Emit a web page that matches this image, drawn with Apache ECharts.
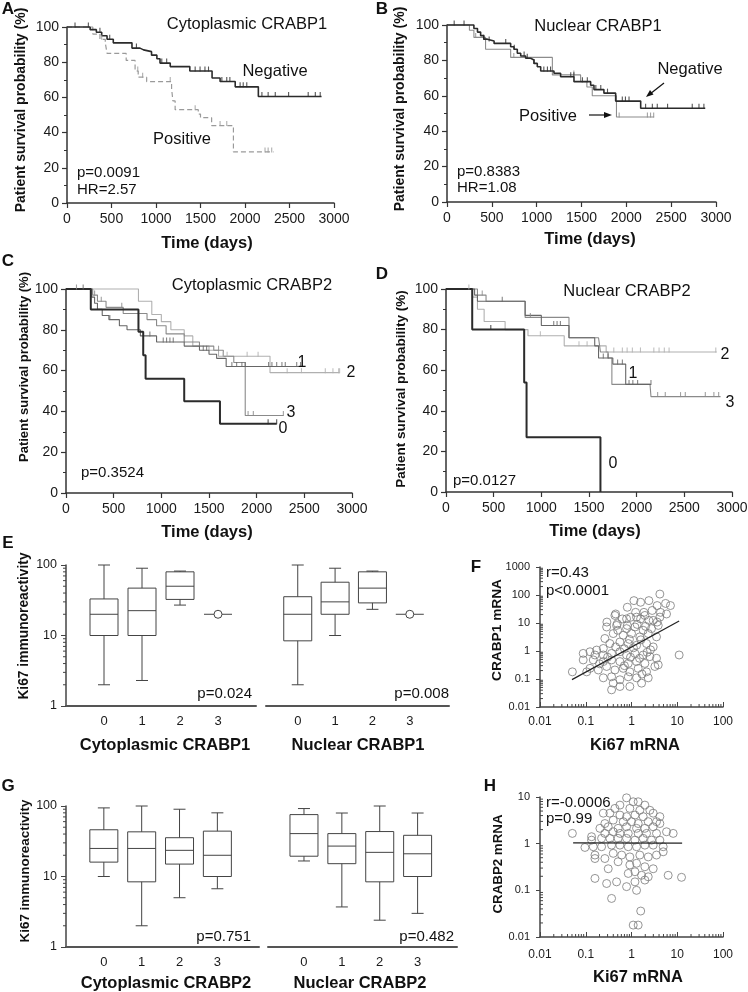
<!DOCTYPE html>
<html><head><meta charset="utf-8">
<script src="https://cdn.jsdelivr.net/npm/echarts@6/dist/echarts.min.js"></script>
<style>html,body{margin:0;padding:0;background:#fff}#c{width:748px;height:992px}</style>
</head><body><div id="c"></div>
<script>
const FONT = '"Liberation Sans", Arial, Helvetica, sans-serif';

// ---------- Panel A : Cytoplasmic CRABP1 (Kaplan-Meier, [time, survival %]) ----------
const aNegative = [[0,100],[260,98.5],[330,97],[390,95],[450,93],[520,91],[730,88],[820,87],[860,86],[950,84],[1010,82],[1045,79.5],[1160,77.5],[1380,75],[1630,71],[1720,69],[1890,66],[2150,60.5],[2860,60.5]];
const aNegativeCensor = [90,240,370,480,780,1065,1120,1440,1495,1550,1590,1740,1795,1830,1945,1980,2020,2190,2260,2340,2490,2710,2790,2845];
const aPositive = [[0,100],[290,96],[370,93],[430,91],[450,85],[665,81],[765,75],[800,71.5],[895,69],[1175,65],[1190,58],[1215,53],[1475,50.5],[1500,48.5],[1625,44],[1870,29],[2320,29]];
const aPositiveCensor = [390,795,850,1160,1440,1720,1795,2225,2260,2300];

// ---------- Panel B : Nuclear CRABP1 ----------
const bNegative = [[0,100],[300,98],[340,96],[375,94],[410,92],[450,91],[525,89.6],[710,87.7],[747,86.3],[784,84],[822,82.5],[877,81.2],[933,80.2],[970,78.3],[1007,76.4],[1045,74],[1193,72.7],[1267,70.8],[1416,68],[1602,66],[1639,63.5],[1750,61.5],[1881,57],[2160,53],[2880,53]];
const bNegativeCensor = [80,190,410,470,655,750,860,895,970,1080,1120,1155,1380,1415,1510,1565,1660,1715,1790,1955,1990,2030,2215,2290,2345,2460,2735,2810,2865];
const bPositive = [[0,100],[250,97],[300,93],[430,86.3],[710,81.7],[1175,71.8],[1490,68],[1560,65],[1620,60],[1890,48],[2310,48]];
const bPositiveCensor = [320,745,1415,1920,2235,2270,2305];

// ---------- Panel C : Cytoplasmic CRABP2 (groups 0-3) ----------
const c0 = [[0,100],[260,90],[760,79],[810,67.5],[835,56],[1240,45],[1615,34],[2210,34]];
const c0Censor = [2120,2210];
const c1 = [[0,100],[270,96],[300,93],[330,90],[380,87],[450,85],[560,82],[640,80],[780,77],[950,74],[1240,72],[1400,70],[1500,68],[1580,66],[1680,62],[2460,62]];
const c1Censor = [180,460,880,1020,1055,1090,1125,1440,1475,1740,1790,1845,1880,2125,2160,2210,2265,2300,2420,2460];
const c2 = [[0,100],[760,94],[900,87.5],[1000,84],[1100,80],[1240,77],[1330,72],[1500,70],[1600,67],[2140,59],[2870,59]];
const c2Censor = [1650,1690,1900,2015,2320,2470,2720,2800,2860,2870];
const c3 = [[0,100],[280,97],[330,94],[420,91],[600,88],[850,85],[950,82],[1050,78],[1240,74],[1400,72],[1550,70],[1650,67],[1760,64],[1880,38],[2280,38]];
const c3Censor = [110,300,370,585,1600,1910,1965,2280];

// ---------- Panel D : Nuclear CRABP2 (groups 0-3) ----------
const d0 = [[0,100],[275,80],[820,54],[845,27],[1620,0]];
const d0Censor = [470];
const d1 = [[0,100],[300,97],[330,94],[830,87],[1000,82],[1290,76],[1560,72],[1600,66],[1750,63],[1885,53],[2150,53]];
const d1Censor = [590,1130,1165,1200,1650,1700,1800,1850,1920,1960,2010,2150];
const d2 = [[0,100],[280,96],[330,90],[400,84],[620,80],[860,77],[1240,72],[1680,69],[2840,69]];
const d2Censor = [240,990,1395,1480,1760,1850,1900,1955,2040,2180,2235,2290,2340,2830];
const d3 = [[0,100],[330,97],[420,94],[830,86],[1250,86],[1290,76],[1600,76],[1620,69],[1700,66],[1740,53],[2140,53],[2150,47],[2880,47]];
const d3Censor = [380,885,2220,2300,2460,2510,2720,2810,2860];

// ---------- Panels E / G : Ki67 immunoreactivity box plots [min, Q1, median, Q3, max] ----------
const boxCategories = [0, 1, 2, 3];
const eCytoCRABP1 = [[2,10,20,33,100],[2.3,10,22.5,47,90],[27,32.5,50,80,82],[20,20,20,20,20]];
const eNucCRABP1  = [[2,8.4,20,35.5,100],[10,20,30,57,90],[23.5,29,47,80,82],[20,20,20,20,20]];
const gCytoCRABP2 = [[10,16,25,46,94],[2,8.4,25,43,100],[5,15,23.5,35.5,90],[6.7,10,20,44,80]];
const gNucCRABP2  = [[16.6,19.4,40.6,75.5,92],[3.7,15.2,27,40.6,79.5],[2.4,8.4,22,43.4,100],[3,10,21,38.4,79.5]];

// ---------- Panel F : Ki67 mRNA vs CRABP1 mRNA ----------
const fPoints = [[4.17,108],[1.13,63],[1.58,55],[2.4,63],[3.64,42],[5.56,50],[7.1,42],[0.81,36.5],[1.23,24],[1.87,24],[2.83,28],[4.3,24],[0.45,21],[0.63,14],[0.955,16],[1.58,14],[2.4,12.4],[3.64,10.8],[0.29,10.8],[0.49,9.4],[0.81,8.2],[1.33,8.9],[2.03,7.6],
 [0.434,18.6],[0.78,14.1],[1.29,16.2],[1.96,18.6],[2.98,12.4],[4.17,16.2],[5.83,21],
 [0.286,7.2],[0.472,8.2],[0.78,6.3],[1.19,7.2],[1.8,5.5],[2.74,6.3],[3.84,8.2],
 [0.399,4.2],[0.66,3.65],[1.0,4.2],[1.52,3.2],[2.32,4.2],[3.52,3.2],
 [0.262,2.8],[0.337,1.85],[0.558,2.1],[0.85,1.85],[1.29,1.6],[2.13,1.85],[2.98,1.4],[0.173,1.08],[0.242,1.23],
 [0.088,0.82],[0.124,0.94],[0.159,0.72],[0.242,0.72],[0.367,0.82],[0.558,0.94],[0.78,0.72],[1.19,0.82],[1.8,0.72],[2.52,0.63],[11.0,0.72],
 [0.088,0.48],[0.146,0.48],[0.242,0.42],[0.367,0.48],[0.558,0.42],[0.85,0.36],[1.29,0.42],[1.96,0.36],[3.52,0.55],[3.84,0.32],
 [0.124,0.24],[0.188,0.21],[0.286,0.28],[0.434,0.21],[0.66,0.24],[0.92,0.18],[1.4,0.24],[2.13,0.18],[3.24,0.28],
 [0.051,0.18],[0.105,0.18],[0.242,0.11],[0.367,0.12],[0.558,0.094],[0.85,0.12],[1.29,0.11],[2.32,0.11],
 [0.367,0.041],[0.558,0.054],[0.92,0.054],[1.66,0.071],[0.399,0.071],
 [0.5,5.5],[0.9,2.6],[1.6,2.5],[0.7,1.2],[1.1,1.3],[2.6,1.1],[0.45,1.4],[1.5,0.55],[0.95,0.6],[0.3,0.6],[2.2,0.9],[0.7,0.3],[1.7,0.15],[0.2,0.35]];
const fFitLine = [[0.05,0.095],[11,11.7]];

// ---------- Panel H : Ki67 mRNA vs CRABP2 mRNA ----------
const hPoints = [[0.78,9.6],[1.09,7.9],[1.40,7.9],[1.96,6.7],[0.558,6.7],[0.434,5.7],[0.92,5.7],[1.52,5.2],[2.52,5.2],[0.242,4.5],[0.337,4.5],[0.558,4.1],[0.78,3.8],[1.19,4.1],[1.80,3.8],[2.98,4.5],[4.17,3.8],[0.399,3.2],[0.66,2.96],[1.0,2.96],[1.40,2.7],[2.32,2.96],[3.52,2.96],[0.262,2.7],[0.204,2.13],[0.31,2.3],[0.51,2.13],[0.78,2.3],[1.29,2.13],[1.96,2.13],[2.98,2.3],[4.17,2.7],[0.262,1.66],[0.399,1.8],[0.558,1.66],[0.85,1.66],[1.40,1.66],[2.13,1.66],[3.52,1.66],[5.83,1.8],[8.15,1.66],[0.051,1.66],[0.134,1.41],[0.222,1.30],[0.337,1.30],[0.51,1.30],[0.78,1.30],[1.19,1.19],[1.80,1.30],[2.74,1.19],[4.17,1.19],[0.134,1.19],[0.096,0.83],[0.146,0.86],[0.222,0.86],[0.367,0.93],[0.558,0.93],[0.85,0.86],[1.29,0.86],[1.96,0.93],[2.98,0.93],[4.93,0.86],[0.159,0.57],[0.159,0.48],[0.262,0.48],[0.399,0.62],[0.61,0.57],[0.92,0.52],[1.52,0.57],[2.32,0.52],[3.52,0.57],[4.93,0.67],[0.51,0.41],[0.92,0.35],[1.29,0.38],[1.96,0.32],[2.98,0.29],[0.31,0.29],[0.85,0.23],[1.19,0.25],[1.66,0.21],[2.32,0.195],[0.159,0.18],[0.286,0.14],[0.472,0.152],[1.19,0.152],[1.96,0.166],[6.33,0.21],[12.4,0.19],[0.78,0.12],[1.29,0.10],[0.367,0.067],[1.59,0.036],[1.09,0.018],[1.40,0.018]];
const hFitLine = [[0.053,1.04],[12.8,1.03]];

// ================= chart construction =================
const grids = [
  {left:67,  top:27,  width:267, height:176}, // 0 A
  {left:447, top:25,  width:269, height:177}, // 1 B
  {left:66,  top:289, width:286, height:204}, // 2 C
  {left:446, top:289, width:286, height:203}, // 3 D
  {left:66,  top:565, width:190, height:141}, // 4 E left
  {left:266, top:565, width:183, height:141}, // 5 E right
  {left:540, top:567, width:183, height:140}, // 6 F
  {left:66,  top:806, width:193, height:141}, // 7 G left
  {left:268, top:806, width:189, height:141}, // 8 G right
  {left:540, top:797, width:183, height:140}  // 9 H
].map(g => Object.assign({containLabel:false, outerBoundsMode:'none'}, g));

const xAxes = [], yAxes = [], series = [];
const lbl = (size, margin, extra) => Object.assign({fontSize:size, color:'#1a1a1a', fontFamily:FONT, margin, showMinLabel:true, showMaxLabel:true}, extra || {});
const fmtNum = v => String(+(+v).toPrecision(3));

function kmAxes(gi) {
  xAxes.push({gridIndex:gi, type:'value', min:0, max:3000, interval:500,
    axisLine:{show:true, onZero:false, lineStyle:{color:'#333', width:1.5}},
    axisTick:{show:true, length:5, lineStyle:{color:'#333', width:1.2}},
    axisLabel:lbl(14, 9, {formatter: fmtNum}), splitLine:{show:false}});
  yAxes.push({gridIndex:gi, type:'value', min:0, max:100, interval:20,
    axisLine:{show:true, onZero:false, lineStyle:{color:'#333', width:1.5}},
    axisTick:{show:true, length:5, lineStyle:{color:'#333', width:1.2}},
    minorTick:{show:true, splitNumber:2, length:3, lineStyle:{color:'#333', width:1}},
    axisLabel:lbl(14, 8, {formatter: fmtNum}), splitLine:{show:false}, minorSplitLine:{show:false}});
}
function boxX(gi, min, max) {
  xAxes.push({gridIndex:gi, type:'value', min, max,
    axisLine:{show:true, onZero:false, lineStyle:{color:'#555', width:2}},
    axisTick:{show:false}, splitLine:{show:false},
    axisLabel:lbl(13, 9, {customValues: boxCategories, formatter: v => (Number.isInteger(+v) && v >= 0 && v <= 3) ? String(v) : ''})});
}
function logAxis(list, gi, min, max, o) {
  list.push({gridIndex:gi, type:'log', logBase:10, min, max, show: o.show !== false,
    axisLine:{show:true, onZero:false, lineStyle:{color:'#444', width:1.5}},
    axisTick:{show:true, inside: !!o.inside, length:o.tick || 5, lineStyle:{color:'#444', width:1}},
    axisLabel:lbl(o.size || 12, o.margin || 9, {formatter: fmtNum}),
    splitLine:{show:false}, minorTick:{show:false}});
}

for (let i = 0; i < 4; i++) kmAxes(i);
boxX(4, -1, 4);        logAxis(yAxes, 4, 1, 100, {size:12.5, margin:9});
boxX(5, -0.85, 4.05);  logAxis(yAxes, 5, 1, 100, {show:false});
logAxis(xAxes, 6, 0.01, 100, {size:12, margin:9, inside:true});
logAxis(yAxes, 6, 0.01, 1000, {size:11, margin:10, tick:4});
boxX(7, -1, 4.1);      logAxis(yAxes, 7, 1, 100, {size:12.5, margin:9});
boxX(8, -0.95, 4.04);  logAxis(yAxes, 8, 1, 100, {show:false});
logAxis(xAxes, 9, 0.01, 100, {size:12, margin:12, inside:true});
logAxis(yAxes, 9, 0.01, 10, {size:11, margin:10, tick:4});

// --- Kaplan-Meier curves ---
function survivalAt(curve, t) { let s = curve[0][1]; for (const p of curve) { if (p[0] <= t) s = p[1]; } return s; }
function km(gi, curve, censor, color, width, dash) {
  series.push({type:'line', xAxisIndex:gi, yAxisIndex:gi, data:curve, step:'end', symbol:'none', clip:false, silent:true, z:2,
    lineStyle:{color, width, type: dash || 'solid'}});
  series.push({type:'scatter', xAxisIndex:gi, yAxisIndex:gi, data:censor.map(t => [t, survivalAt(curve, t)]), clip:false, silent:true, z:3,
    symbol:'rect', symbolSize:[1.1, 5], symbolOffset:[0, -2], itemStyle:{color}});
}
km(0, aPositive, aPositiveCensor, '#9a9a9a', 1.2, [5, 3]);
km(0, aNegative, aNegativeCensor, '#2b2b2b', 1.6);
km(1, bPositive, bPositiveCensor, '#8c8c8c', 1.1);
km(1, bNegative, bNegativeCensor, '#2b2b2b', 1.6);
km(2, c2, c2Censor, '#b0b0b0', 1.1);
km(2, c3, c3Censor, '#8a8a8a', 1.1);
km(2, c1, c1Censor, '#666666', 1.1);
km(2, c0, c0Censor, '#2b2b2b', 2);
km(3, d2, d2Censor, '#b0b0b0', 1.1);
km(3, d3, d3Censor, '#8a8a8a', 1.1);
km(3, d1, d1Censor, '#666666', 1.1);
km(3, d0, d0Censor, '#2b2b2b', 2);

// --- box plots ---
function boxes(gi, data) {
  series.push({type:'custom', xAxisIndex:gi, yAxisIndex:gi, silent:true, z:3, clip:false,
    data: data.map((b, i) => [boxCategories[i]].concat(b)),
    encode:{x:0, y:[1,2,3,4,5]},
    renderItem: (params, api) => {
      const x = api.value(0);
      const P = [1,2,3,4,5].map(d => api.coord([x, api.value(d)]));
      const cx = P[0][0], hw = 14, cw = 6;
      const st = {stroke:'#444', lineWidth:1, fill:'none'};
      const ln = (x1, y1, x2, y2) => ({type:'line', shape:{x1, y1, x2, y2}, style:st});
      const ch = [];
      if (api.value(1) === api.value(5)) {
        ch.push(ln(cx - hw, P[2][1], cx + hw, P[2][1]));
        ch.push({type:'circle', shape:{cx, cy:P[2][1], r:4}, style:{stroke:'#444', fill:'#fff', lineWidth:1}});
      } else {
        ch.push(ln(cx, P[0][1], cx, P[1][1]));
        ch.push(ln(cx, P[3][1], cx, P[4][1]));
        ch.push(ln(cx - cw, P[0][1], cx + cw, P[0][1]));
        ch.push(ln(cx - cw, P[4][1], cx + cw, P[4][1]));
        ch.push({type:'rect', shape:{x:cx - hw, y:P[3][1], width:2 * hw, height:P[1][1] - P[3][1]}, style:st});
        ch.push(ln(cx - hw, P[2][1], cx + hw, P[2][1]));
      }
      return {type:'group', children:ch};
    }});
}
boxes(4, eCytoCRABP1); boxes(5, eNucCRABP1); boxes(7, gCytoCRABP2); boxes(8, gNucCRABP2);

// --- log minor ticks (axis decoration) ---
function logMinor(lo, hi) {
  const out = [];
  for (let e = Math.round(Math.log10(lo)); e < Math.round(Math.log10(hi)); e++)
    for (let m = 2; m <= 9; m++) out.push(+(m * Math.pow(10, e)).toPrecision(3));
  return out;
}
function minorTicks(gi, dim, values, base, len) {
  series.push({type:'custom', xAxisIndex:gi, yAxisIndex:gi, silent:true, z:4, clip:false,
    data: values.map(v => dim === 'y' ? [base, v] : [v, base]),
    renderItem: (params, api) => {
      const p = api.coord([api.value(0), api.value(1)]);
      const shape = dim === 'y' ? {x1:p[0], y1:p[1], x2:p[0] + len, y2:p[1]} : {x1:p[0], y1:p[1], x2:p[0], y2:p[1] + len};
      return {type:'line', shape, style:{stroke:'#444', lineWidth:1}};
    }});
}
minorTicks(4, 'y', logMinor(1, 100), -1, -3);
minorTicks(7, 'y', logMinor(1, 100), -1, -3);
minorTicks(6, 'x', logMinor(0.01, 100), 0.01, -3);
minorTicks(6, 'y', logMinor(0.01, 1000), 0.01, 3);
minorTicks(9, 'x', logMinor(0.01, 100), 0.01, -3);
minorTicks(9, 'y', logMinor(0.01, 10), 0.01, 3);

// --- scatter plots ---
function scatter(gi, pts, fit) {
  series.push({type:'scatter', xAxisIndex:gi, yAxisIndex:gi, data:pts, symbol:'circle', symbolSize:8, silent:true, z:3,
    itemStyle:{color:'rgba(255,255,255,0)', borderColor:'#7a7a7a', borderWidth:1}});
  series.push({type:'line', xAxisIndex:gi, yAxisIndex:gi, data:fit, symbol:'none', silent:true, z:4,
    lineStyle:{color:'#222', width:1.2}});
}
scatter(6, fPoints, fFitLine);
scatter(9, hPoints, hFitLine);

// --- texts ---
function txt(x, y, text, size, o) {
  o = o || {};
  const al = o.align || 'center';
  return {type:'text', x, y, rotation:o.rot || 0, silent:true, z:100,
    style:{text, fill:o.fill || '#111', fontSize:size, fontWeight:o.bold ? 'bold' : 'normal', fontFamily:FONT,
      align:al, verticalAlign:'middle', textAlign:al, textVerticalAlign:'middle'}};
}
const R = Math.PI / 2;
const graphics = [
  txt(8, 9, 'A', 17, {bold:true}), txt(382, 9, 'B', 17, {bold:true}),
  txt(8, 261, 'C', 17, {bold:true}), txt(382, 274, 'D', 17, {bold:true}),
  txt(8, 543, 'E', 17, {bold:true}), txt(476, 567, 'F', 17, {bold:true}),
  txt(8, 786, 'G', 17, {bold:true}), txt(490, 786, 'H', 17, {bold:true}),
  // A
  txt(247, 24, 'Cytoplasmic CRABP1', 16.5), txt(275, 71, 'Negative', 16.5), txt(182, 139, 'Positive', 16.5),
  txt(77, 173, 'p=0.0091', 15, {align:'left'}), txt(77, 190, 'HR=2.57', 15, {align:'left'}),
  txt(207, 243, 'Time (days)', 16.5, {bold:true}), txt(21, 110, 'Patient survival probability (%)', 14, {bold:true, rot:R}),
  // B
  txt(598, 26, 'Nuclear CRABP1', 16.5), txt(690, 69, 'Negative', 16.5), txt(548, 116, 'Positive', 16.5),
  txt(457, 172, 'p=0.8383', 15, {align:'left'}), txt(457, 188, 'HR=1.08', 15, {align:'left'}),
  txt(590, 239, 'Time (days)', 16.5, {bold:true}), txt(400, 109, 'Patient survival probability (%)', 14, {bold:true, rot:R}),
  // C
  txt(252, 285, 'Cytoplasmic CRABP2', 16.5),
  txt(302, 363, '1', 16), txt(351, 373, '2', 16), txt(291, 413, '3', 16), txt(283, 429, '0', 16),
  txt(81, 473, 'p=0.3524', 15, {align:'left'}),
  txt(207, 532, 'Time (days)', 16.5, {bold:true}), txt(24, 367, 'Patient survival probability (%)', 13, {bold:true, rot:R}),
  // D
  txt(627, 291, 'Nuclear CRABP2', 16.5),
  txt(725, 355, '2', 16), txt(633, 374, '1', 16), txt(730, 403, '3', 16), txt(613, 464, '0', 16),
  txt(453, 481, 'p=0.0127', 15, {align:'left'}),
  txt(595, 531, 'Time (days)', 16.5, {bold:true}), txt(401, 389, 'Patient survival probability (%)', 13.5, {bold:true, rot:R}),
  // E
  txt(252, 694, 'p=0.024', 15, {align:'right'}), txt(449, 694, 'p=0.008', 15, {align:'right'}),
  txt(165, 745, 'Cytoplasmic CRABP1', 16.5, {bold:true}), txt(358, 745, 'Nuclear CRABP1', 16.5, {bold:true}),
  txt(24, 626, 'Ki67 immunoreactivity', 13.8, {bold:true, rot:R}),
  // F
  txt(546, 573, 'r=0.43', 15, {align:'left'}), txt(546, 591, 'p<0.0001', 15, {align:'left'}),
  txt(635, 745, 'Ki67 mRNA', 16.5, {bold:true}), txt(497, 630, 'CRABP1 mRNA', 13.7, {bold:true, rot:R}),
  // G
  txt(251, 937, 'p=0.751', 15, {align:'right'}), txt(454, 937, 'p=0.482', 15, {align:'right'}),
  txt(166, 983, 'Cytoplasmic CRABP2', 16.5, {bold:true}), txt(360, 983, 'Nuclear CRABP2', 16.5, {bold:true}),
  txt(25, 871, 'Ki67 immunoreactivity', 13.4, {bold:true, rot:R}),
  // H
  txt(546, 803, 'r=-0.0006', 15, {align:'left'}), txt(546, 819, 'p=0.99', 15, {align:'left'}),
  txt(638, 977, 'Ki67 mRNA', 16.5, {bold:true}), txt(498, 864, 'CRABP2 mRNA', 13.3, {bold:true, rot:R}),
  // arrows in B
  {type:'line', silent:true, z:100, shape:{x1:664, y1:83, x2:650, y2:94}, style:{stroke:'#111', lineWidth:1.2}},
  {type:'polygon', silent:true, z:100, shape:{points:[[646,97],[653.5,94.5],[650,90]]}, style:{fill:'#111'}},
  {type:'line', silent:true, z:100, shape:{x1:589, y1:115, x2:606, y2:115}, style:{stroke:'#111', lineWidth:1.2}},
  {type:'polygon', silent:true, z:100, shape:{points:[[612,115],[604,112],[604,118]]}, style:{fill:'#111'}}
];

const chart = echarts.init(document.getElementById('c'), null, {renderer:'canvas', width:748, height:992});
chart.setOption({
  animation:false,
  backgroundColor:'#ffffff',
  textStyle:{fontFamily:FONT},
  grid:grids, xAxis:xAxes, yAxis:yAxes, series, graphic:graphics
});
</script></body></html>
